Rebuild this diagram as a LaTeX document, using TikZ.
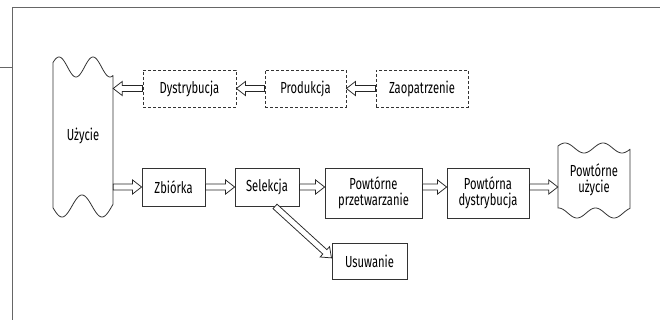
\documentclass[tikz,border=0pt]{standalone}
\usepackage{fontspec}
\setmainfont{Fira Sans}[FakeStretch=0.7]
\usetikzlibrary{calc}
\begin{document}
\begin{tikzpicture}[x=1pt,y=-1pt,
  every node/.style={font=\fontsize{16}{16.5}\selectfont, text=black, inner sep=0pt},
  box/.style={draw=black!80, line width=0.8pt, rectangle, align=center},
  dbox/.style={box, dash pattern=on 3pt off 2pt},
  ghost/.style={rectangle, align=center},
  frame/.style={draw=black!60, line width=0.8pt},
  wave/.style={draw=black!80, line width=0.8pt, line join=round},
  harrow/.style={draw=black!85, line width=0.75pt, fill=white, line join=miter,
    to path={let \p1=(\tikztostart), \p2=(\tikztotarget),
      \n1={atan2(\y2-\y1,\x2-\x1)}, \n2={veclen(\x2-\x1,\y2-\y1)} in
      {[shift={(\p1)}, rotate=\n1]
       (0pt,-3pt) -- (\n2*1pt-9pt,-3pt) -- (\n2*1pt-9pt,-7pt) -- (\n2*1pt,0pt)
       -- (\n2*1pt-9pt,7pt) -- (\n2*1pt-9pt,3pt) -- (0pt,3pt) -- cycle}
      (\tikztotarget)}}
]
\useasboundingbox (0,0) rectangle (660,320);
% frame
\draw[frame] (12,320) -- (12,7) -- (660,7);
\draw[frame] (0,67) -- (12,67);

% Uzycie
\node[ghost, minimum width=60pt, minimum height=142pt] (uz) at (83,136) {Użycie};
\draw[wave] plot[domain=53:113, samples=80] (\x, {67-10*cos((\x-59)/34*360)})
  -- plot[domain=113:53, samples=80] (\x, {206+11*cos((\x-62)/40*360)}) -- cycle;

% top row
\node[dbox, minimum width=93pt, minimum height=37pt] (dys) at (189.5,88.5) {Dystrybucja};
\node[dbox, minimum width=81pt, minimum height=37pt] (prod) at (305.5,88.5) {Produkcja};
\node[dbox, minimum width=92pt, minimum height=37pt] (zao) at (422,88.5) {Zaopatrzenie};

% bottom row
\node[box, minimum width=63pt, minimum height=38pt] (zb) at (173.5,187) {Zbiórka};
\node[box, minimum width=64pt, minimum height=38pt] (sel) at (267,187) {Selekcja};
\node[box, minimum width=97pt, minimum height=50pt] (pp) at (373.5,193) {Powtórne\\przetwarzanie};
\node[box, minimum width=82pt, minimum height=50pt] (pd) at (488,193) {Powtórna\\dystrybucja};
\node[ghost, minimum width=72pt, minimum height=62pt] (pu) at (594,180) {Powtórne\\użycie};
\draw[wave] plot[domain=558:630, samples=80] (\x, {148-5*cos((\x-565)/38*360)})
  -- plot[domain=630:558, samples=80] (\x, {213+5*cos((\x-577)/37*360)}) -- cycle;
\node[box, minimum width=75pt, minimum height=36pt] (usu) at (369.5,261) {Usuwanie};

% connectors
\draw[harrow] (dys.west) to (uz.east |- dys.west);
\draw[harrow] (prod.west) to (dys.east);
\draw[harrow] (zao.west) to (prod.east);
\draw[harrow] (uz.east |- zb.west) to (zb.west);
\draw[harrow] (zb.east) to (sel.west);
\draw[harrow] (sel.east) to (pp.west |- sel.east);
\draw[harrow] (pp.east |- sel.east) to (pd.west |- sel.east);
\draw[harrow] (pd.east |- sel.east) to (pu.west |- sel.east);
\coordinate (selout) at ($(sel.south)+(8,0)$);
\coordinate (usuin) at ($(usu.west)+(0,-3)$);
\draw[harrow] (selout) to (usuin);
\end{tikzpicture}
\end{document}
